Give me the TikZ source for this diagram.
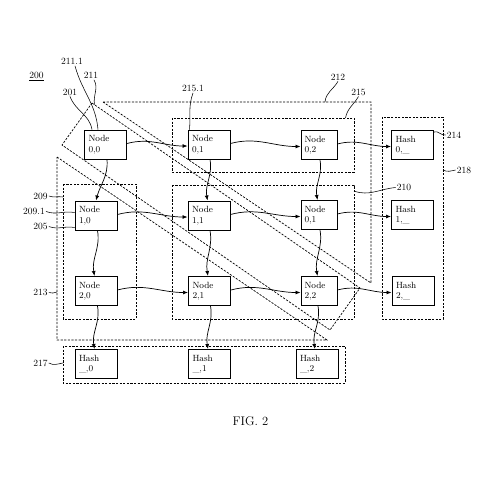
\documentclass[tikz,border=0pt]{standalone}
\usepackage{tikz}
\usetikzlibrary{arrows.meta,positioning,calc}

\begin{document}
\begin{tikzpicture}[
    x=1pt, y=1pt,
    cell/.style={draw, line width=1pt, minimum height=29pt, inner sep=0pt, font=\fontsize{9}{10.5}\selectfont, align=left},
    wide/.style={cell, minimum width=42pt, text width=34pt},
    narrow/.style={cell, minimum width=36pt, text width=29pt},
    group/.style={dash pattern=on 2.2pt off 1.4pt, line width=0.7pt},
    arrow/.style={-{Latex[length=5pt,width=4pt]}, line width=0.7pt},
    lead/.style={line width=0.55pt},
    lbl/.style={font=\fontsize{9.5}{11}\selectfont, inner sep=1pt}
]
\useasboundingbox (0,0) rectangle (480,-480);

% Row 0
\node[wide] (N00) at (105.5,-144.5) {Node\\0,0};
\node[wide] (N01) at (209,-144.5) {Node\\0,1};
\node[narrow] (N02) at (319,-145) {Node\\0,2};
\node[wide] (H0) at (412.5,-145) {Hash\\0,\_};

% Row 1
\node[wide] (N10) at (96,-215.5) {Node\\1,0};
\node[wide] (N11) at (209,-215.5) {Node\\1,1};
\node[narrow] (N12) at (319,-215) {Node\\0,1};
\node[wide] (H1) at (412.5,-215) {Hash\\1,\_};

% Row 2
\node[wide] (N20) at (96,-291) {Node\\2,0};
\node[wide] (N21) at (209.5,-291) {Node\\2,1};
\node[narrow] (N22) at (319,-291) {Node\\2,2};
\node[wide] (H2) at (413,-291) {Hash\\2,\_};

% Column hashes
\node[wide] (C0) at (96,-364) {Hash\\\_,0};
\node[wide] (C1) at (209.5,-364) {Hash\\\_,1};
\node[wide] (C2) at (317,-364) {Hash\\\_,2};

% Groups
\draw[group] (172,-118) rectangle (354,-172); % 215
\draw[group] (172,-185) rectangle (354,-319); % 210
\draw[group] (63,-184) rectangle (136,-319); % 209
\draw[group] (63,-346) rectangle (345,-383); % 217
\draw[group] (382,-117) rectangle (443,-319); % 218
\draw[group] (103,-102) -- (371,-102) -- (371,-283) -- cycle; % 212
\draw[group] (92,-103) -- (360,-288) -- (330,-330) -- (62,-145) -- cycle; % 211
\draw[group] (57,-157) -- (327,-340) -- (57,-340) -- cycle; % 213

\coordinate (g211) at (94.5,-104.7);
\coordinate (g212) at (325,-102);
\coordinate (g215) at (345.5,-118);
\coordinate (g218) at (443,-170);
\coordinate (g210) at (354,-191);
\coordinate (g209) at (63,-197);
\coordinate (g213) at (57,-292);
\coordinate (g217) at (63,-363);

% Edges
\draw[arrow] ([yshift=1pt]N00.east) to[out=15,in=180] ([yshift=-1.5pt]N01.west);
\draw[arrow] ([yshift=1pt]N01.east) to[out=15,in=180] ([yshift=-1.5pt]N02.west);
\draw[arrow] ([yshift=1pt]N02.east) to[out=15,in=180] ([yshift=-1.5pt]H0.west);
\draw[arrow] ([yshift=1pt]N10.east) to[out=15,in=180] ([yshift=-1.5pt]N11.west);
\draw[arrow] ([yshift=1pt]N11.east) to[out=15,in=180] ([yshift=-1.5pt]N12.west);
\draw[arrow] ([yshift=1pt]N12.east) to[out=15,in=180] ([yshift=-1.5pt]H1.west);
\draw[arrow] ([yshift=1pt]N20.east) to[out=15,in=180] ([yshift=-1.5pt]N21.west);
\draw[arrow] ([yshift=1pt]N21.east) to[out=15,in=180] ([yshift=-1.5pt]N22.west);
\draw[arrow] ([yshift=1pt]N22.east) to[out=15,in=180] ([yshift=-1.5pt]H2.west);
\draw[arrow] ([xshift=1.5pt]N00.south) to[out=-85,in=75] (N10.north);
\draw[arrow] ([xshift=1.5pt]N10.south) to[out=-80,in=100] ([xshift=-1.5pt]N20.north);
\draw[arrow] ([xshift=1.5pt]N20.south) to[out=-80,in=100] ([xshift=-1.5pt]C0.north);
\draw[arrow] ([xshift=1pt]N01.south) to[out=-80,in=100] ([xshift=-1.5pt]N11.north);
\draw[arrow] ([xshift=1pt]N11.south) to[out=-80,in=100] ([xshift=-1.5pt]N21.north);
\draw[arrow] ([xshift=1pt]N21.south) to[out=-80,in=100] ([xshift=-1.5pt]C1.north);
\draw[arrow] ([xshift=1pt]N02.south) to[out=-80,in=100] ([xshift=-1.5pt]N12.north);
\draw[arrow] ([xshift=1pt]N12.south) to[out=-80,in=100] ([xshift=-1.5pt]N22.north);
\draw[arrow] ([xshift=-1pt]N22.south) to[out=-80,in=100] ([xshift=-2pt]C2.north);

% Labels
\node[lbl] (L200) at (36.5,-76.5) {\underline{200}};
\node[lbl] (L2111) at (72,-61.5) {211.1};
\node[lbl] (L211) at (91,-75.5) {211};
\node[lbl] (L201) at (70,-92) {201};
\node[lbl] (L2151) at (193,-88.5) {215.1};
\node[lbl] (L212) at (338,-77) {212};
\node[lbl] (L215) at (358.5,-92) {215};
\node[lbl] (L214) at (454,-135) {214};
\node[lbl] (L218) at (464,-170) {218};
\node[lbl] (L210) at (404,-187.5) {210};
\node[lbl] (L209) at (40.5,-196) {209};
\node[lbl] (L2091) at (34,-211.5) {209.1};
\node[lbl] (L205) at (40.5,-226.5) {205};
\node[lbl] (L213) at (40.5,-292.5) {213};
\node[lbl] (L217) at (40.5,-363) {217};
\node[font=\fontsize{12.5}{14}\selectfont] (fig) at (250.5,-421.5) {FIG.~2};

% Leaders
\draw[lead] ([xshift=3pt]L2111.south) to[out=-75,in=95] ([xshift=-7.5pt]N00.north);
\draw[lead] ([xshift=3pt]L211.south) to[out=-60,in=100] (g211);
\draw[lead] (L201.south) to[out=-70,in=100] ([xshift=-13.5pt]N00.north);
\draw[lead] (L2151.south) to[out=-110,in=85] ([xshift=2pt]N01.north west);
\draw[lead] (L212.south) to[out=-120,in=85] (g212);
\draw[lead] (L215.south) to[out=-120,in=80] (g215);
\draw[lead] ([yshift=-2pt]H0.north east) to[out=20,in=190] (L214.west);
\draw[lead] (g218) to[out=-30,in=190] (L218.west);
\draw[lead] (g210) to[out=-20,in=185] (L210.west);
\draw[lead] (L209.east) to[out=-20,in=170] (g209);
\draw[lead] (L2091.east) to[out=-20,in=170] ([yshift=3pt]N10.west);
\draw[lead] (L205.east) to[out=-20,in=170] ([yshift=-12pt]N10.west);
\draw[lead] (L213.east) to[out=-30,in=190] (g213);
\draw[lead] (L217.east) to[out=-30,in=190] (g217);
\end{tikzpicture}
\end{document}
